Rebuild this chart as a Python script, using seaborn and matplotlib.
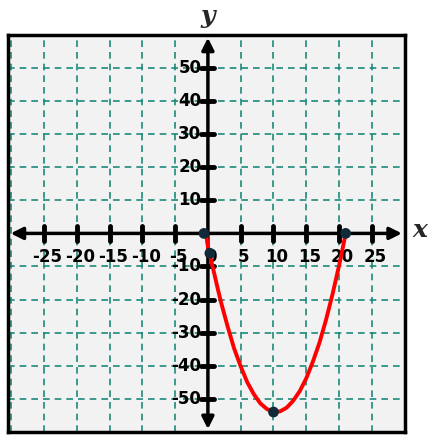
import matplotlib.pyplot as plt
import seaborn as sns
import pandas as pd

# points
curve_x = [-0.3, 0, 0.5, 1, 1.5, 2, 3, 4, 5, 6, 7, 8, 9, 10, 11, 12, 13, 14, 15, 16, 17, 18, 19, 20, 20.5, 21]
curve_y = [0, -4, -8.3, -12.4, -16.7, -20.8, -28.1, -34.8, -40.2, -45, -48.6, -51.4, -53.1, -54, -53.8, -52.7,
           -50.6, -47.7, -43.8, -38.8, -33.1, -26.2, -18.4, -9.7, -5, 0]
dots_x = [-0.6, 0.3, 10, 21]
dots_y = [0, -6, -54, 0]
xticks = [-25, -20, -15, -10, -5, 5, 10, 15, 20, 25]
yticks = [-50, -40, -30, -20, -10, 10, 20, 30, 40, 50]

sns.set_style('white')
fig = plt.figure(figsize=(4.37, 4.48), dpi=100)
ax = fig.add_axes([0.018, 0.036, 0.908, 0.886])
ax.set_facecolor('#f2f2f2')
ax.set_xlim(-30.5, 30)
ax.set_ylim(-60, 60)
for s in ax.spines.values():
    s.set_linewidth(2.5)
    s.set_color('black')
ax.set_xticks([])
ax.set_yticks([])

grid = dict(color='#1a8a7a', ls=(0, (4, 3)), lw=1.2, zorder=1)
for v in range(-30, 31, 5):
    if v != 0:
        ax.axvline(v, **grid)
for v in range(-60, 61, 10):
    if v != 0:
        ax.axhline(v, **grid)

ax.annotate('', xy=(30, 0), xytext=(-30.5, 0), arrowprops=dict(arrowstyle='<|-|>', color='black', lw=2.5, mutation_scale=18), zorder=3)
ax.annotate('', xy=(0, 60), xytext=(0, -60), arrowprops=dict(arrowstyle='<|-|>', color='black', lw=2.5, mutation_scale=18), zorder=3)
for v in xticks:
    ax.plot([v, v], [-2.2, 2.2], color='black', lw=3.5, zorder=3)
    ax.text(v + 0.5, -4.5, str(v), ha='center', va='top', fontsize=12, fontweight='bold', color='black', zorder=4)
for v in yticks:
    ax.plot([-1, 1], [v, v], color='black', lw=3.5, zorder=3)
    ax.text(-1.0, v, str(v), ha='right', va='center', fontsize=12, fontweight='bold', color='black', zorder=4)
ax.text(0.5, -4.5, '0', ha='center', va='top', fontsize=12, fontweight='bold', color='black', zorder=4)

df = pd.DataFrame({'x': curve_x, 'y': curve_y})
sns.lineplot(data=df, x='x', y='y', sort=False, color='red', lw=2.8, ax=ax, zorder=5)
sns.scatterplot(x=dots_x, y=dots_y, color='#102a3a', s=60, ax=ax, zorder=6, edgecolor='none')
ax.set_xlabel('')
ax.set_ylabel('')

fig.text(208 / 437, 1 - 16 / 448, 'y', fontsize=18, fontweight='bold', style='italic', family='DejaVu Serif', ha='center', va='center')
fig.text(420 / 437, 1 - 230 / 448, 'x', fontsize=18, fontweight='bold', style='italic', family='DejaVu Serif', ha='center', va='center')

fig.savefig('out.png', dpi=100)
